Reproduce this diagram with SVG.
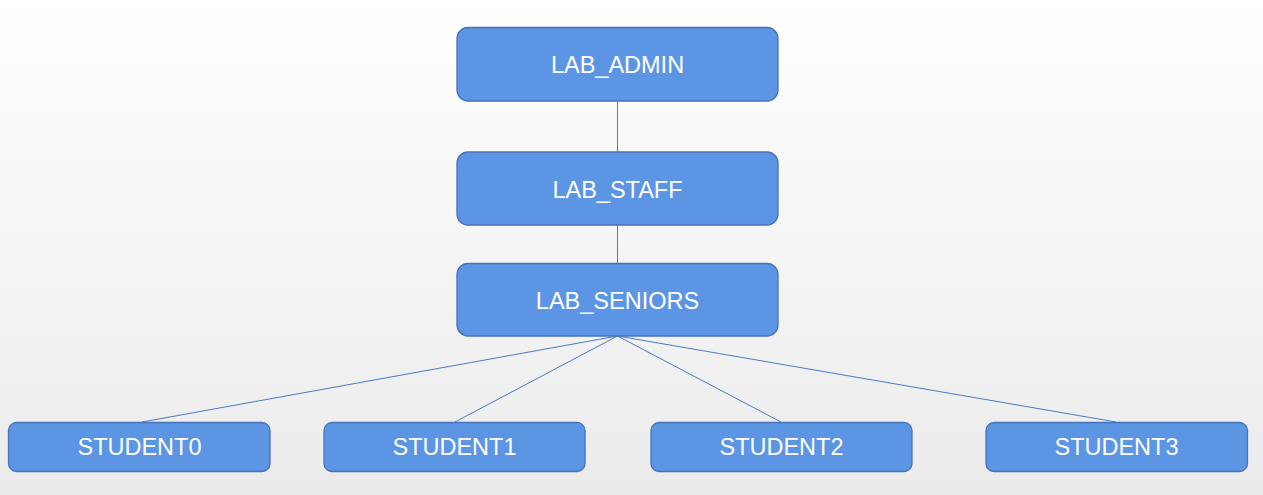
<svg xmlns="http://www.w3.org/2000/svg" width="1263" height="495" viewBox="0 0 1263 495">
<defs>
<linearGradient id="bg" x1="0" y1="0" x2="0" y2="1">
<stop offset="0" stop-color="#ffffff"/>
<stop offset="1" stop-color="#ebebeb"/>
</linearGradient>
</defs>
<style>
.box{fill:#5c95e4;stroke:#4672b8;stroke-width:1.3}
.lbl{fill:#ffffff;font-family:"Liberation Sans",Arial,sans-serif;font-size:23.5px;text-anchor:middle}
.edge{stroke:#4a7ac0;stroke-width:1;fill:none}
</style>
<rect x="0" y="0" width="1263" height="495" fill="url(#bg)"/>
<g id="connectors">
<line class="edge" x1="617.5" y1="101" x2="617.5" y2="152"/>
<line class="edge" x1="617.5" y1="225" x2="617.5" y2="263"/>
<line class="edge" x1="617.5" y1="336" x2="142" y2="422"/>
<line class="edge" x1="617.5" y1="336" x2="455" y2="422"/>
<line class="edge" x1="617.5" y1="336" x2="781" y2="422"/>
<line class="edge" x1="617.5" y1="336" x2="1116" y2="422"/>
</g>
<g id="lab_admin">
<rect class="box" x="457" y="27.5" width="321" height="73.5" rx="11"/>
<text class="lbl" x="617.5" y="73">LAB_ADMIN</text>
</g>
<g id="lab_staff">
<rect class="box" x="457" y="152" width="321" height="73" rx="11"/>
<text class="lbl" x="617.5" y="197.5">LAB_STAFF</text>
</g>
<g id="lab_seniors">
<rect class="box" x="457" y="263.5" width="321" height="72.5" rx="11"/>
<text class="lbl" x="617.5" y="308.5">LAB_SENIORS</text>
</g>
<g id="student0">
<rect class="box" x="8.5" y="422.5" width="261.5" height="49" rx="8"/>
<text class="lbl" x="139.5" y="455">STUDENT0</text>
</g>
<g id="student1">
<rect class="box" x="324" y="422.5" width="261" height="49" rx="8"/>
<text class="lbl" x="454.5" y="455">STUDENT1</text>
</g>
<g id="student2">
<rect class="box" x="651" y="422.5" width="261" height="49" rx="8"/>
<text class="lbl" x="781.5" y="455">STUDENT2</text>
</g>
<g id="student3">
<rect class="box" x="986" y="422.5" width="261.5" height="49" rx="8"/>
<text class="lbl" x="1116.5" y="455">STUDENT3</text>
</g>
</svg>
